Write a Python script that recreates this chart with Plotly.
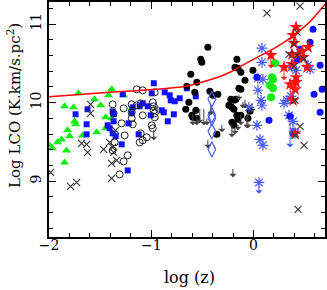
import plotly.graph_objects as go

# ---------------- data (log z, log LCO) ----------------
curve_x = [-2.0, -1.505, -0.995, -0.662, -0.505, -0.348, -0.23, -0.113, 0.044, 0.211, 0.377, 0.534, 0.701]
curve_y = [10.074, 10.122, 10.166, 10.208, 10.259, 10.322, 10.386, 10.471, 10.581, 10.696, 10.836, 11.006, 11.252]

tri_x = [-1.995, -1.966, -1.917, -1.877, -1.848, -1.848, -1.828, -1.799, -1.819, -1.76, -1.75, -1.74, -1.711,
         -1.554, -1.534, -1.495, -1.446, -1.417, -1.387, -1.27, -1.446, -1.387, -1.191, -1.672]
tri_y = [9.456, 9.418, 9.494, 9.532, 9.239, 9.953, 9.392, 9.571, 9.647, 9.94, 9.762, 9.724, 10.118,
         10.042, 9.622, 9.966, 9.673, 10.093, 10.169, 10.093, 9.813, 9.8, 9.927, 9.583]

cross_x = [-1.681, -1.632, -1.623, -1.593, -1.593, -1.466, -1.407, -1.377, -1.368, -1.348, -1.338, -1.387, -1.387,
           -1.985, -1.789, -1.73, 0.132, 0.456, 0.426, 0.397, 0.348, 0.426, 0.495, 0.397, 0.407, 0.456, 0.407,
           0.495, 0.436]
cross_y = [9.482, 9.469, 9.367, 9.978, 9.864, 9.405, 9.494, 9.431, 9.367, 9.647, 9.265, 9.227, 9.036,
           9.112, 8.934, 8.985, 11.138, 11.227, 10.896, 10.743, 10.615, 10.603, 10.552, 10.462, 10.029, 9.698, 9.583,
           9.456, 8.641]

ocirc_x = [-1.142, -1.083, -0.966, -1.377, -1.27, -1.191, -1.142, -1.103, -0.985, -0.975, -1.368, -1.191, -1.191,
           -1.083, -0.975, -0.966, -0.966, -1.289, -1.181, -0.995, -0.985, -1.26, -1.103, -1.044, -1.358, -1.377,
           -1.113, -1.083, -1.23, -1.27, -1.309]
ocirc_y = [10.169, 10.157, 10.131, 9.978, 9.927, 9.978, 9.966, 9.991, 10.004, 9.953, 9.864, 9.876, 9.8,
           9.838, 9.902, 9.864, 9.813, 9.736, 9.724, 9.711, 9.673, 9.583, 9.609, 9.558, 9.494, 9.392,
           9.494, 9.52, 9.329, 9.252, 9.087]

bsq_x = [-1.74, -1.623, -1.632, -1.632, -1.426, -1.407, -1.368, -1.377, -1.368, -1.377, -1.181, -1.191, -1.123,
         -1.279, -1.348, -1.289, -1.23, -0.975, -0.868, -0.819, -0.995, -0.809, -0.77, -0.721, -1.113, -1.083,
         -1.034, -0.897, -0.877, -0.779, -0.838, -1.005, -1.221, -0.652, -0.564]
bsq_y = [9.851, 9.915, 9.724, 9.596, 9.711, 9.673, 9.762, 9.889, 9.851, 9.609, 9.94, 9.864, 9.596,
         10.106, 9.571, 9.469, 9.137, 10.246, 10.131, 10.093, 10.118, 10.029, 10.017, 10.055, 9.953, 9.991,
         9.953, 9.902, 9.876, 9.851, 9.762, 9.838, 9.736, 10.182, 10.08]

kdot_x = [-0.446, -0.515, -0.505, -0.613, -0.554, -0.652, -0.574, -0.426, -0.397, -0.348, -0.632, -0.662, -0.564,
          -0.603, -0.593, -0.554, -0.358, -0.162, -0.181, -0.152, -0.123, -0.005, -0.083, -0.142, -0.123, -0.221,
          -0.172, -0.24, -0.211, -0.191, -0.034, -0.054, -0.162, -0.152, -0.123, -0.211, -0.191, -0.191]
kdot_y = [10.704, 10.552, 10.513, 10.361, 10.259, 10.208, 10.131, 10.144, 10.093, 10.106, 10.004, 9.915, 9.902,
          9.838, 9.813, 9.8, 9.596, 10.552, 10.45, 10.437, 10.386, 10.411, 10.284, 10.182, 10.169, 10.042,
          10.042, 9.966, 9.94, 9.915, 9.889, 9.8, 9.838, 9.787, 9.838, 9.749, 9.711, 10.029]

diam_x = [-0.407, -0.407, -0.407, -0.407, -0.407]
diam_y = [10.042, 9.838, 9.8, 9.634, 9.405]

ast_x = [0.083, 0.083, 0.044, 0.093, 0.044, 0.074, 0.083, -0.044, 0.034, 0.064, 0.093, 0.299, 0.328, 0.368,
         0.377, 0.417, 0.534, 0.554, 0.348, 0.387, 0.407, 0.054]
ast_y = [10.692, 10.513, 10.31, 10.297, 10.157, 10.029, 9.966, 9.94, 9.711, 9.532, 9.456, 9.991, 10.029, 10.08,
         10.45, 10.411, 10.475, 10.424, 9.838, 9.762, 9.609, 8.985]

rstar_x = [0.417, 0.387, 0.397, 0.534, 0.475, 0.377, 0.436, 0.485, 0.377, 0.525, 0.172, 0.299, 0.417, 0.417,
           0.358, 0.407, 0.387, 0.407]
rstar_y = [10.959, 10.857, 10.755, 10.704, 10.654, 10.615, 10.615, 10.577, 10.488, 10.45, 10.603, 10.45, 10.322,
           10.259, 10.233, 10.169, 10.029, 9.609]

gdot_x = [0.211, 0.181, 0.191, 0.162, 0.191, 0.172]
gdot_y = [10.501, 10.322, 10.297, 10.22, 10.182, 10.068]

bdot_x = [0.583, 0.554, 0.456, 0.426, 0.034, 0.672, 0.593, 0.652, 0.152, 0.358, 0.387, 0.652]
bdot_y = [10.934, 10.768, 10.679, 10.539, 10.322, 10.169, 10.106, 9.876, 9.775, 9.825, 9.609, 10.475]

# upper limits (start value -> arrow tip)
lim_x = [-0.975, -0.956, -0.593, -0.554, -0.525, -0.485, -0.456, -0.417, -0.309, -0.446, -0.211, -0.152,
         -0.123, -0.103, -0.083, -0.064, -0.054, -0.015, -0.142, -0.181, -0.201]
lim_y0 = [9.673, 10.029, 9.876, 9.864, 9.94, 9.94, 9.813, 9.991, 9.736, 9.545, 9.749, 9.736,
          9.864, 10.029, 10.055, 9.876, 9.889, 10.004, 10.118, 9.685, 9.176]
lim_y1 = [9.52, 9.902, 9.711, 9.711, 9.736, 9.711, 9.711, 9.838, 9.622, 9.418, 9.558, 9.647,
          9.711, 9.927, 9.927, 9.673, 9.673, 9.876, 10.029, 9.596, 9.048]

rlim_x = [0.172, 0.299, 0.358, 0.417]
rlim_y0 = [10.603, 10.45, 10.233, 10.259]
rlim_y1 = [10.437, 10.284, 10.029, 10.131]

blim_x = [0.358, 0.387, 0.054]
blim_y0 = [9.825, 9.8, 9.01]
blim_y1 = [9.43, 9.63, 8.84]

x_ticks = [-2, -1, 0]
x_ticktext = ["\u22122", "\u22121", "0"]
y_ticks = [9, 10, 11]
y_ticktext = ["9", "10", "11"]

# ---------------- figure ----------------
BLUE = "#1010ff"
LBLUE = "#4a5cff"
GREEN = "#11ee11"
SERIF = "DejaVu Serif"

fig = go.Figure()

def sc(x, y, symbol, color, size, lw=0, lc=None):
    fig.add_trace(go.Scatter(
        x=x, y=y, mode="markers",
        marker=dict(symbol=symbol, color=color, size=size,
                    line=dict(width=lw, color=lc if lc else color)),
        showlegend=False, hoverinfo="skip"))

sc(tri_x, tri_y, "triangle-up", GREEN, 8)
sc(bsq_x, bsq_y, "square", BLUE, 6)
sc(ocirc_x, ocirc_y, "circle-open", "#222222", 7, 1)
sc(kdot_x, kdot_y, "circle", "black", 7)
sc(diam_x, diam_y, "diamond-tall-open", LBLUE, 11, 1.2)
sc(ast_x, ast_y, "asterisk-open", LBLUE, 9, 1.2)
sc(gdot_x, gdot_y, "circle", GREEN, 8)
sc(bdot_x, bdot_y, "circle", BLUE, 7)
sc(rstar_x, rstar_y, "star", "#ff1010", 10)
sc(cross_x, cross_y, "x-thin-open", "#333333", 7, 1.1)

fig.add_trace(go.Scatter(x=curve_x, y=curve_y, mode="lines",
                         line=dict(color="#ff0000", width=1.5, shape="spline"),
                         showlegend=False, hoverinfo="skip"))

def arrows(xs, y0s, y1s, color):
    for x, a, b in zip(xs, y0s, y1s):
        fig.add_annotation(x=x, y=b, ax=x, ay=a, xref="x", yref="y", axref="x", ayref="y",
                           text="", showarrow=True, arrowhead=1, arrowsize=1.2,
                           arrowwidth=1, arrowcolor=color, standoff=0, startstandoff=0)

arrows(lim_x, lim_y0, lim_y1, "#444444")
arrows(rlim_x, rlim_y0, rlim_y1, "#ff2020")
arrows(blim_x, blim_y0, blim_y1, LBLUE)

# axis titles as paper-positioned text
fig.add_annotation(text="log (z)", xref="paper", yref="paper", x=0.51, y=-0.172,
                   xanchor="center", yanchor="middle", showarrow=False,
                   font=dict(family=SERIF, size=16, color="black"))
fig.add_annotation(text="Log LCO (K.km/s.pc<sup>2</sup>)", xref="paper", yref="paper", x=-0.125, y=0.56,
                   xanchor="center", yanchor="middle", showarrow=False, textangle=-90,
                   font=dict(family=SERIF, size=15, color="black"))

axis_common = dict(showline=True, linecolor="black", linewidth=1.5, mirror="allticks",
                   ticks="inside", ticklen=7, tickwidth=1, tickcolor="black",
                   showgrid=False, zeroline=False, automargin=False,
                   tickfont=dict(family=SERIF, size=14, color="black"))

fig.update_xaxes(range=[-2, 0.70], tickvals=x_ticks, ticktext=x_ticktext, ticklabelstandoff=-6,
                 minor=dict(dtick=0.2, tick0=0, ticks="inside", ticklen=4, tickcolor="black", showgrid=False),
                 **axis_common)
fig.update_yaxes(range=[8.29, 11.28], tickvals=y_ticks, ticktext=y_ticktext, tickangle=-90,
                 ticklabelstandoff=1,
                 minor=dict(dtick=0.2, tick0=0, ticks="inside", ticklen=4, tickcolor="black", showgrid=False),
                 **axis_common)

fig.update_layout(width=327, height=290, margin=dict(l=49, r=2, t=2, b=53, autoexpand=False),
                  paper_bgcolor="white", plot_bgcolor="white", showlegend=False)

fig.write_html("out.html", config={"displayModeBar": False},
               post_script="document.body.style.margin='0';document.body.style.overflow='hidden';")
